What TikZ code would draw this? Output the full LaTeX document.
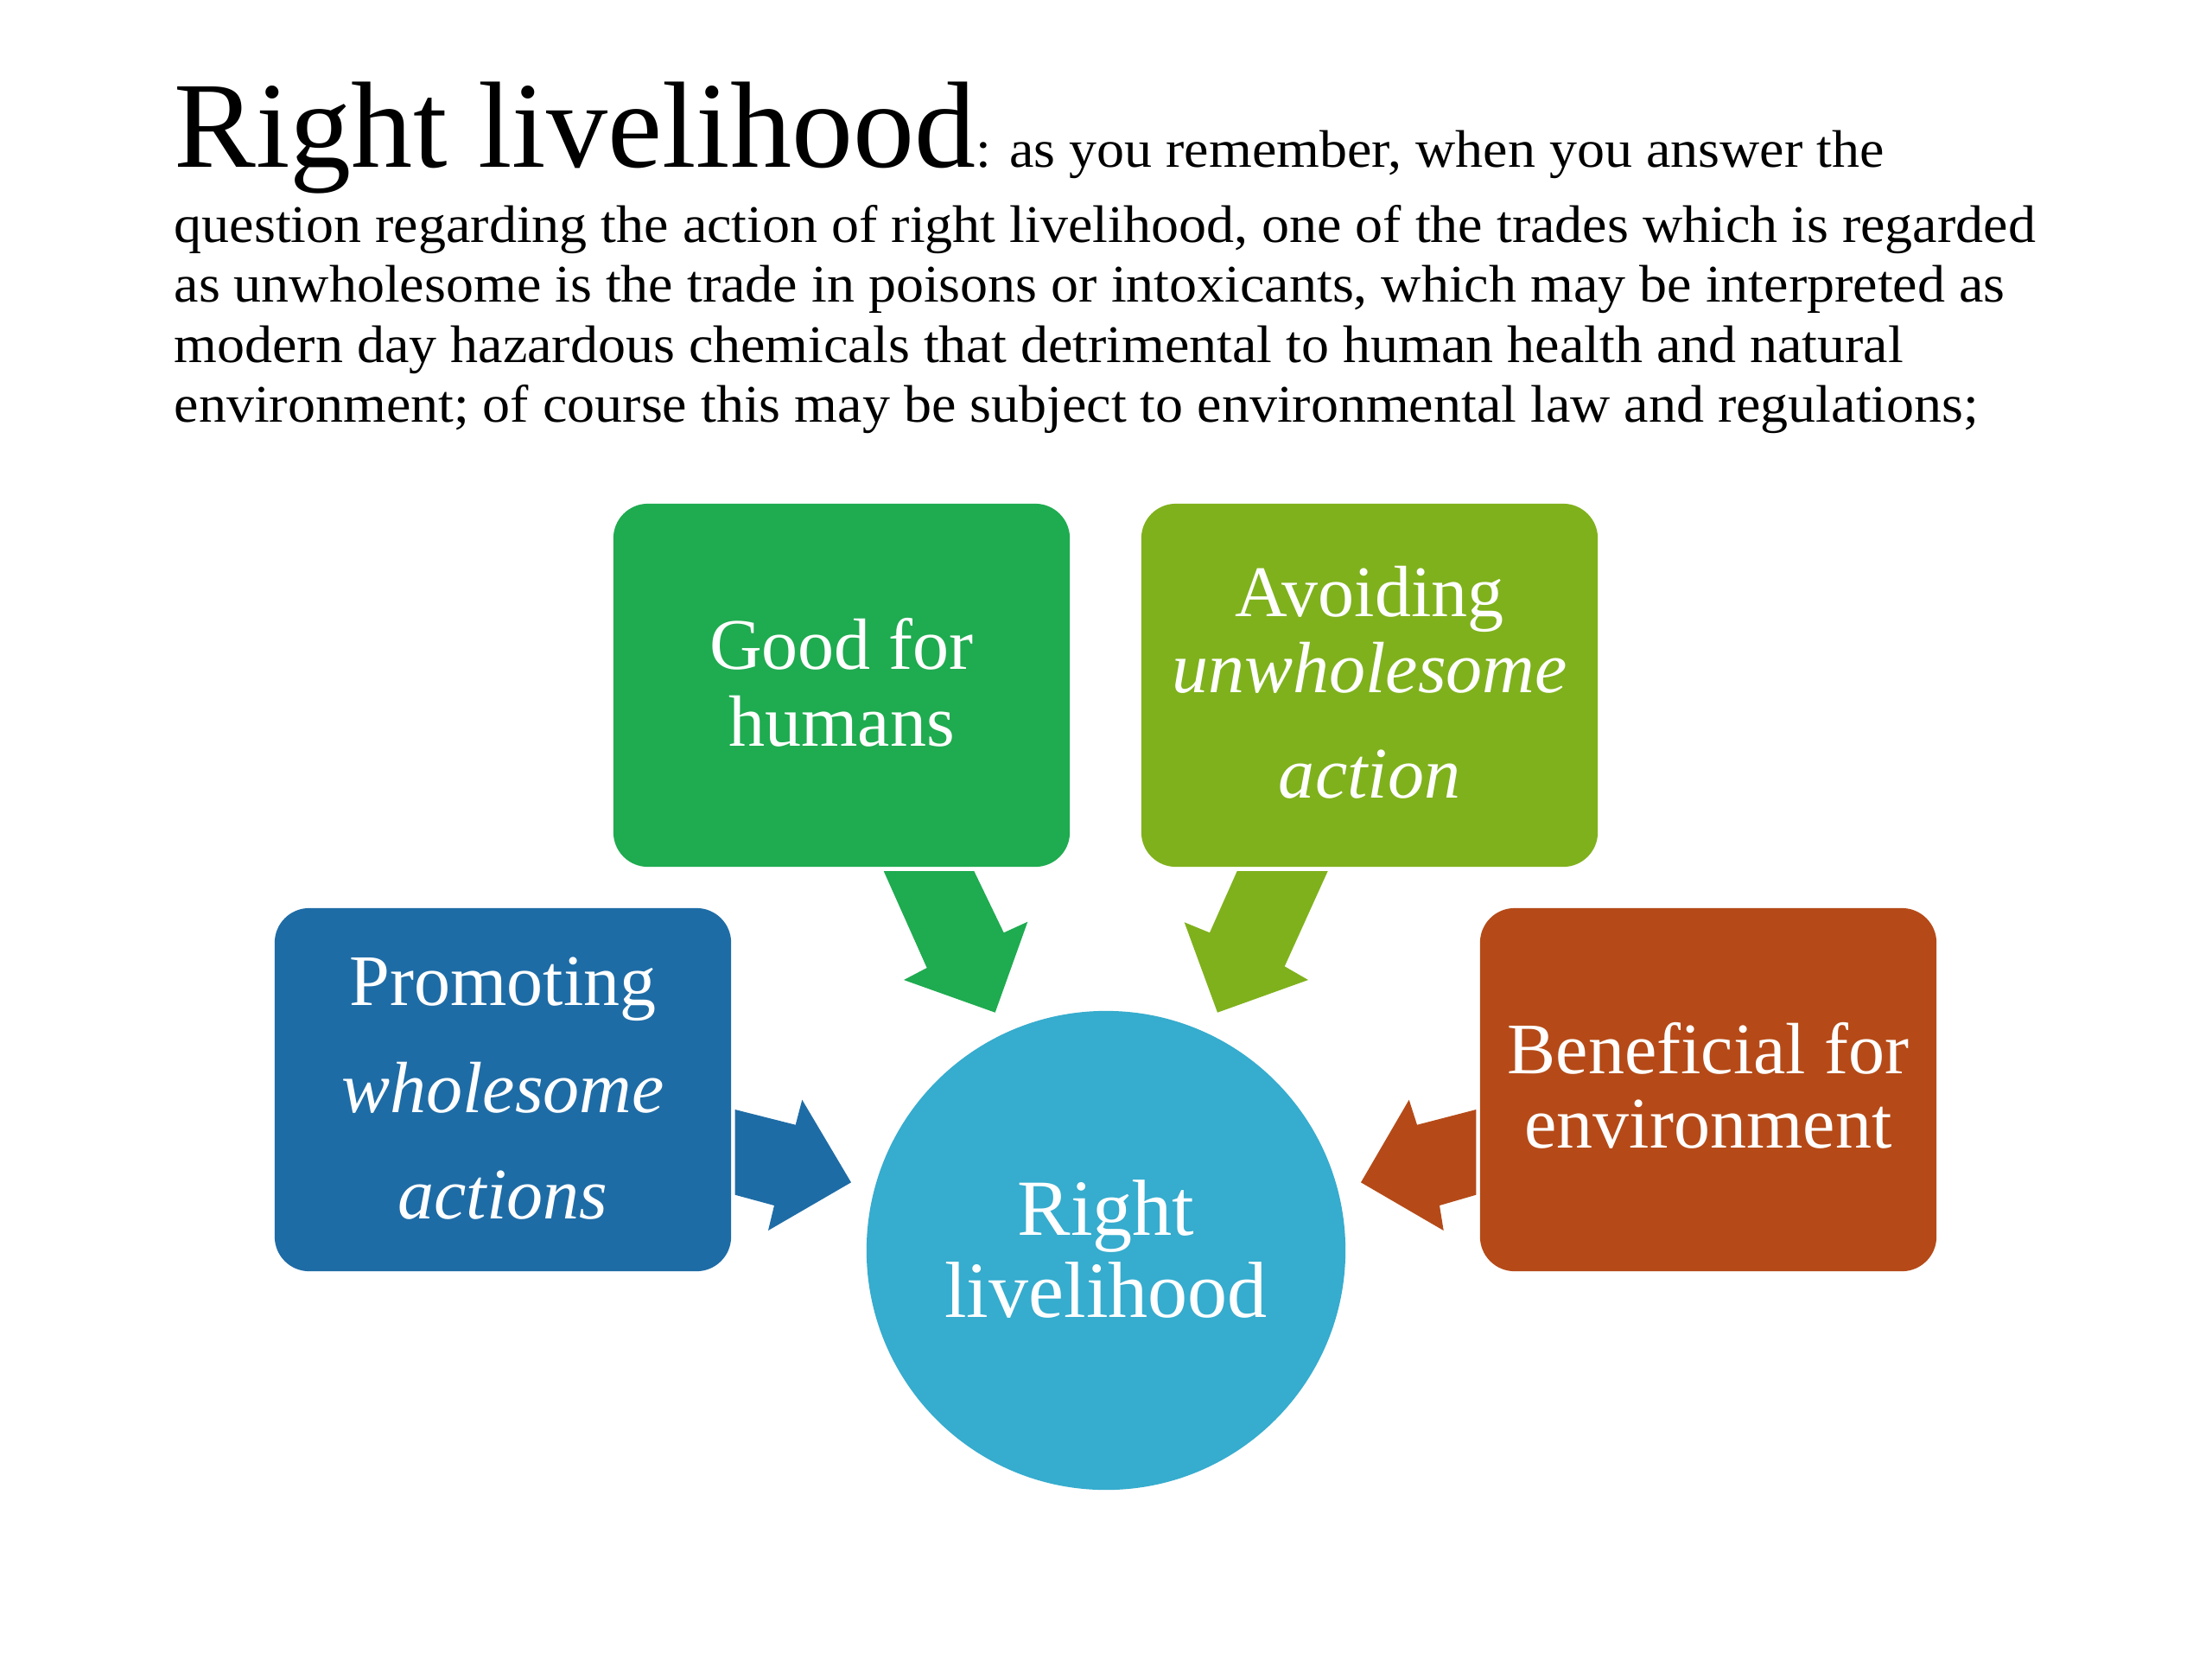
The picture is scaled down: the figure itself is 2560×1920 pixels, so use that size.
\documentclass[tikz,border=0pt]{standalone}
\usepackage{fontspec}
\setmainfont{Liberation Serif}
\newfontfamily\bodyfont[FakeStretch=1.046]{Liberation Serif}
\definecolor{cgreen}{RGB}{31,171,80}
\definecolor{colive}{RGB}{127,177,28}
\definecolor{cblue}{RGB}{30,108,166}
\definecolor{crust}{RGB}{181,74,24}
\definecolor{ccirc}{RGB}{54,172,206}
\tikzset{
  box/.style={rounded corners=0.4cm, inner sep=0pt, minimum width=5.28cm, minimum height=4.2cm},
  lbl/.style={anchor=base, inner sep=0pt, text=white, font=\fontsize{23.9}{28}\selectfont},
  clbl/.style={anchor=base, inner sep=0pt, text=white, font=\fontsize{26.2}{31}\selectfont},
  body/.style={anchor=base west, inner sep=0pt, font=\bodyfont\fontsize{17.4}{20}\selectfont},
}
\begin{document}
\begin{tikzpicture}[x=0.01cm, y=-0.01cm]
\useasboundingbox (0,0) rectangle (2560,1920);
\fill[white] (0,0) rectangle (2560,1920);

% heading text
\node[body] (t1) at (201,193) {{\rmfamily\fontsize{40.4}{48}\selectfont Right livelihood}: as you remember, when you answer the};
\node[body] (t2) at (201,280) {question regarding the action of right livelihood, one of the trades which is regarded};
\node[body] (t3) at (201,349.5) {as unwholesome is the trade in poisons or intoxicants, which may be interpreted as};
\node[body] (t4) at (201,419) {modern day hazardous chemicals that detrimental to human health and natural};
\node[body] (t5) at (201,488.5) {environment; of course this may be subject to environmental law and regulations;};

% boxes
\node[box, fill=cgreen] (good) at (974,793) {};
\node[box, fill=colive] (avoid) at (1585,793) {};
\node[box, fill=cblue] (prom) at (582,1261) {};
\node[box, fill=crust] (benef) at (1977,1261) {};
\node[circle, fill=ccirc, minimum size=5.54cm, inner sep=0pt] (rl) at (1280,1447) {};

% labels
\node[lbl] (good1) at (974,774) {Good for};
\node[lbl] (good2) at (974,863) {humans};
\node[lbl] (avoid1) at (1585,713) {Avoiding};
\node[lbl] (avoid2) at (1585,801) {\itshape unwholesome};
\node[lbl] (avoid3) at (1585,923) {\itshape action};
\node[lbl] (prom1) at (582,1163) {Promoting};
\node[lbl] (prom2) at (582,1287) {\itshape wholesome};
\node[lbl] (prom3) at (582,1410) {\itshape actions};
\node[lbl] (benef1) at (1977,1242) {Beneficial for};
\node[lbl] (benef2) at (1977,1328) {environment};
\node[clbl] (rl1) at (1280,1429) {Right};
\node[clbl] (rl2) at (1280,1524) {livelihood};

% block arrows
\fill[cgreen] (1022.7,1008) -- (1127.3,1008) -- (1161.7,1079.3) -- (1189.3,1066.7) -- (1151.7,1171.7) -- (1046,1134) -- (1072.7,1120) -- cycle;
\fill[colive] (1431.7,1008) -- (1536.7,1008) -- (1486.7,1118.3) -- (1514,1134) -- (1409,1171.7) -- (1370.7,1067.3) -- (1400,1079.3) -- cycle;
\fill[cblue] (850.7,1284) -- (920.7,1301.7) -- (928.3,1272.7) -- (985,1368.3) -- (889,1424) -- (896,1395) -- (850.7,1382.7) -- cycle;
\fill[crust] (1708.3,1284) -- (1640,1301.7) -- (1630.7,1272.7) -- (1575,1368.3) -- (1670.7,1424) -- (1666,1395) -- (1708.3,1382.7) -- cycle;
\end{tikzpicture}
\end{document}
